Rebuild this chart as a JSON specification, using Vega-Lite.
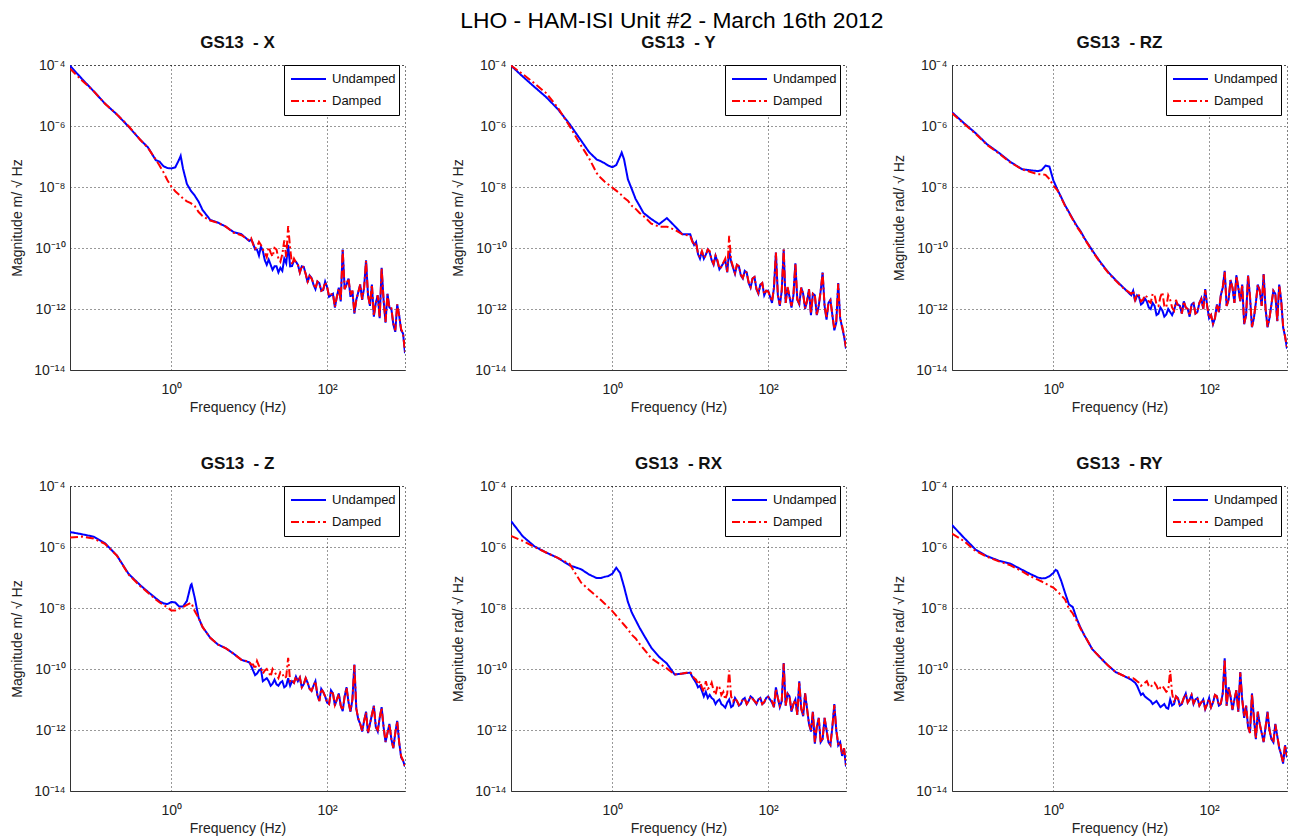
{
"$schema": "https://vega.github.io/schema/vega-lite/v6.json",
"background": "white",
"padding": {"left": 10, "top": 9, "right": 0, "bottom": 0},
"title": {"text": "LHO - HAM-ISI Unit #2 - March 16th 2012", "fontSize": 22.8, "fontWeight": "normal", "color": "#000", "offset": 1, "anchor": "middle", "dx": 23},
"columns": 3,
"spacing": {"row": 39, "column": 45},
"resolve": {"scale": {"color": "independent", "strokeDash": "independent"}, "legend": {"color": "independent", "strokeDash": "independent"}},
"data": {"values": [
{"p":"X","f":0.05,"U":9.55e-5,"D":7.59e-5},
{"p":"X","f":0.0708,"U":3.55e-5,"D":3.16e-5},
{"p":"X","f":0.1,"U":1.41e-5,"D":1.41e-5},
{"p":"X","f":0.141,"U":5.37e-6,"D":5.37e-6},
{"p":"X","f":0.2,"U":2.4e-6,"D":2.4e-6},
{"p":"X","f":0.282,"U":9.55e-7,"D":1e-6},
{"p":"X","f":0.398,"U":3.55e-7,"D":3.55e-7},
{"p":"X","f":0.501,"U":2e-7,"D":1.91e-7},
{"p":"X","f":0.631,"U":7.59e-8,"D":7.94e-8},
{"p":"X","f":0.708,"U":6.76e-8,"D":5.01e-8},
{"p":"X","f":0.794,"U":4.79e-8,"D":3.02e-8},
{"p":"X","f":0.891,"U":4.17e-8,"D":1.66e-8},
{"p":"X","f":1,"U":4.07e-8,"D":1.05e-8},
{"p":"X","f":1.122,"U":4.37e-8,"D":7.24e-9},
{"p":"X","f":1.259,"U":7.94e-8,"D":5.62e-9},
{"p":"X","f":1.318,"U":1.05e-7,"D":5.13e-9},
{"p":"X","f":1.413,"U":3.98e-8,"D":4.17e-9},
{"p":"X","f":1.585,"U":1.26e-8,"D":3.39e-9},
{"p":"X","f":1.778,"U":7.59e-9,"D":2.95e-9},
{"p":"X","f":1.995,"U":5.25e-9,"D":2.4e-9},
{"p":"X","f":2.239,"U":3.31e-9,"D":1.51e-9},
{"p":"X","f":2.512,"U":1.78e-9,"D":1.12e-9},
{"p":"X","f":3.162,"U":8.32e-10,"D":7.94e-10},
{"p":"X","f":3.981,"U":6.76e-10,"D":6.61e-10},
{"p":"X","f":5.012,"U":5.01e-10,"D":5.01e-10},
{"p":"X","f":6.31,"U":3.31e-10,"D":3.16e-10},
{"p":"X","f":7.943,"U":2.82e-10,"D":2.63e-10},
{"p":"X","f":10,"U":1.7e-10,"D":1.78e-10},
{"p":"X","f":11.22,"U":1.41e-10,"D":1.32e-10},
{"p":"X","f":12.59,"U":8.91e-11,"D":1.12e-10},
{"p":"X","f":14.13,"U":1.12e-10,"D":1.26e-10},
{"p":"X","f":15.85,"U":3.98e-11,"D":7.08e-11},
{"p":"X","f":17.78,"U":4.17e-11,"D":1.07e-10},
{"p":"X","f":19.95,"U":1.91e-11,"D":5.25e-11},
{"p":"X","f":22.39,"U":2.51e-11,"D":8.91e-11},
{"p":"X","f":25.12,"U":2.24e-11,"D":3.55e-11},
{"p":"X","f":28.18,"U":4.47e-11,"D":1.78e-10},
{"p":"X","f":31.62,"U":1.26e-10,"D":5.25e-10},
{"p":"X","f":35.48,"U":2.57e-11,"D":2.82e-11},
{"p":"X","f":39.81,"U":3.55e-11,"D":3.31e-11},
{"p":"X","f":44.67,"U":1.58e-11,"D":1.58e-11},
{"p":"X","f":50.12,"U":2.4e-11,"D":2.24e-11},
{"p":"X","f":56.23,"U":7.41e-12,"D":7.94e-12},
{"p":"X","f":63.1,"U":1.05e-11,"D":1e-11},
{"p":"X","f":70.79,"U":4.47e-12,"D":4.68e-12},
{"p":"X","f":79.43,"U":7.08e-12,"D":6.61e-12},
{"p":"X","f":89.13,"U":4.17e-12,"D":4.47e-12},
{"p":"X","f":100,"U":5.25e-12,"D":5.25e-12},
{"p":"X","f":112.2,"U":2.82e-12,"D":3.02e-12},
{"p":"X","f":125.9,"U":1.12e-12,"D":1.17e-12},
{"p":"X","f":141.3,"U":5.01e-12,"D":4.79e-12},
{"p":"X","f":158.5,"U":8.91e-11,"D":8.51e-11},
{"p":"X","f":177.8,"U":6.31e-12,"D":6.61e-12},
{"p":"X","f":199.5,"U":2.51e-12,"D":2.82e-12},
{"p":"X","f":223.9,"U":7.08e-13,"D":7.59e-13},
{"p":"X","f":251.2,"U":3.55e-12,"D":3.55e-12},
{"p":"X","f":281.8,"U":2e-12,"D":2.09e-12},
{"p":"X","f":316.2,"U":3.98e-11,"D":3.8e-11},
{"p":"X","f":354.8,"U":1.26e-12,"D":1.32e-12},
{"p":"X","f":398.1,"U":5.62e-13,"D":6.03e-13},
{"p":"X","f":446.7,"U":2.82e-12,"D":2.82e-12},
{"p":"X","f":501.2,"U":2.24e-11,"D":2.19e-11},
{"p":"X","f":562.3,"U":3.55e-13,"D":3.8e-13},
{"p":"X","f":631,"U":1.12e-12,"D":1.05e-12},
{"p":"X","f":707.9,"U":3.16e-13,"D":3.31e-13},
{"p":"X","f":794.3,"U":1.41e-12,"D":1.41e-12},
{"p":"X","f":891.3,"U":2e-13,"D":2.24e-13},
{"p":"X","f":1000,"U":3.55e-14,"D":3.98e-14},
{"p":"X","f":10.59,"U":1.91e-10,"D":2.09e-10},
{"p":"X","f":11.89,"U":8.91e-11,"D":9.55e-11},
{"p":"X","f":13.34,"U":5.62e-11,"D":1.58e-10},
{"p":"X","f":14.96,"U":7.94e-11,"D":8.91e-11},
{"p":"X","f":16.79,"U":2.82e-11,"D":5.01e-11},
{"p":"X","f":18.84,"U":2.82e-11,"D":7.08e-11},
{"p":"X","f":21.13,"U":2.51e-11,"D":1e-10},
{"p":"X","f":23.71,"U":1.58e-11,"D":4.47e-11},
{"p":"X","f":26.61,"U":1.78e-11,"D":6.31e-11},
{"p":"X","f":29.85,"U":3.16e-11,"D":5.01e-11},
{"p":"X","f":33.5,"U":2.51e-11,"D":1e-10},
{"p":"X","f":37.58,"U":3.98e-11,"D":4.47e-11},
{"p":"X","f":42.17,"U":2.82e-11,"D":2.82e-11},
{"p":"X","f":47.32,"U":2.51e-11,"D":2.63e-11},
{"p":"X","f":53.09,"U":1.41e-11,"D":1.41e-11},
{"p":"X","f":59.57,"U":1.26e-11,"D":1.2e-11},
{"p":"X","f":66.83,"U":6.31e-12,"D":7.08e-12},
{"p":"X","f":74.99,"U":7.94e-12,"D":7.94e-12},
{"p":"X","f":84.14,"U":3.98e-12,"D":3.98e-12},
{"p":"X","f":94.41,"U":7.94e-12,"D":7.59e-12},
{"p":"X","f":105.9,"U":2.51e-12,"D":2.63e-12},
{"p":"X","f":118.9,"U":3.16e-12,"D":3.16e-12},
{"p":"X","f":133.4,"U":2.51e-12,"D":2.51e-12},
{"p":"X","f":149.6,"U":1.78e-12,"D":1.91e-12},
{"p":"X","f":167.9,"U":4.47e-12,"D":4.47e-12},
{"p":"X","f":188.4,"U":1e-11,"D":1e-11},
{"p":"X","f":211.3,"U":3.98e-12,"D":3.98e-12},
{"p":"X","f":237.1,"U":2e-12,"D":2e-12},
{"p":"X","f":266.1,"U":6.31e-12,"D":6.31e-12},
{"p":"X","f":298.5,"U":5.01e-12,"D":5.01e-12},
{"p":"X","f":335,"U":2.82e-12,"D":2.82e-12},
{"p":"X","f":375.8,"U":6.31e-12,"D":6.31e-12},
{"p":"X","f":421.7,"U":1.58e-12,"D":1.58e-12},
{"p":"X","f":473.2,"U":5.01e-13,"D":5.25e-13},
{"p":"X","f":530.9,"U":2e-12,"D":2e-12},
{"p":"X","f":595.7,"U":3.16e-12,"D":3.02e-12},
{"p":"X","f":668.3,"U":1e-12,"D":1.05e-12},
{"p":"X","f":749.9,"U":1.78e-13,"D":2e-13},
{"p":"X","f":841.4,"U":6.31e-13,"D":6.03e-13},
{"p":"X","f":944.1,"U":1.58e-13,"D":1.58e-13},

{"p":"Y","f":0.05,"U":9.55e-5,"D":9.55e-5},
{"p":"Y","f":0.0708,"U":4.17e-5,"D":5.01e-5},
{"p":"Y","f":0.1,"U":1.91e-5,"D":2.51e-5},
{"p":"Y","f":0.141,"U":8.91e-6,"D":1.2e-5},
{"p":"Y","f":0.2,"U":3.55e-6,"D":3.98e-6},
{"p":"Y","f":0.282,"U":1.17e-6,"D":1e-6},
{"p":"Y","f":0.398,"U":3.31e-7,"D":2.24e-7},
{"p":"Y","f":0.501,"U":1.41e-7,"D":8.91e-8},
{"p":"Y","f":0.631,"U":7.94e-8,"D":2.82e-8},
{"p":"Y","f":0.708,"U":7.08e-8,"D":2e-8},
{"p":"Y","f":0.794,"U":6.03e-8,"D":1.51e-8},
{"p":"Y","f":0.891,"U":5.01e-8,"D":1.2e-8},
{"p":"Y","f":1,"U":4.47e-8,"D":9.55e-9},
{"p":"Y","f":1.122,"U":5.25e-8,"D":7.59e-9},
{"p":"Y","f":1.259,"U":1e-7,"D":6.03e-9},
{"p":"Y","f":1.318,"U":1.35e-7,"D":5.37e-9},
{"p":"Y","f":1.413,"U":8.13e-8,"D":4.47e-9},
{"p":"Y","f":1.585,"U":1.78e-8,"D":3.55e-9},
{"p":"Y","f":1.778,"U":8.51e-9,"D":2.4e-9},
{"p":"Y","f":1.995,"U":3.98e-9,"D":1.91e-9},
{"p":"Y","f":2.239,"U":2.4e-9,"D":1.41e-9},
{"p":"Y","f":2.512,"U":1.41e-9,"D":1.12e-9},
{"p":"Y","f":3.162,"U":8.91e-10,"D":6.31e-10},
{"p":"Y","f":3.981,"U":6.03e-10,"D":5.01e-10},
{"p":"Y","f":5.012,"U":9.55e-10,"D":5.01e-10},
{"p":"Y","f":6.31,"U":5.25e-10,"D":3.98e-10},
{"p":"Y","f":7.943,"U":2.82e-10,"D":2.82e-10},
{"p":"Y","f":10,"U":2.82e-10,"D":2.51e-10},
{"p":"Y","f":11.22,"U":1.26e-10,"D":1.2e-10},
{"p":"Y","f":12.59,"U":6.31e-11,"D":6.61e-11},
{"p":"Y","f":14.13,"U":7.94e-11,"D":7.94e-11},
{"p":"Y","f":15.85,"U":6.03e-11,"D":5.62e-11},
{"p":"Y","f":17.78,"U":7.08e-11,"D":7.94e-11},
{"p":"Y","f":19.95,"U":2.82e-11,"D":3.02e-11},
{"p":"Y","f":22.39,"U":3.55e-11,"D":3.98e-11},
{"p":"Y","f":25.12,"U":2.51e-11,"D":2.4e-11},
{"p":"Y","f":28.18,"U":3.98e-11,"D":4.47e-11},
{"p":"Y","f":31.62,"U":7.94e-11,"D":2.51e-10},
{"p":"Y","f":35.48,"U":2.24e-11,"D":2.4e-11},
{"p":"Y","f":39.81,"U":2.82e-11,"D":2.82e-11},
{"p":"Y","f":44.67,"U":1.26e-11,"D":1.32e-11},
{"p":"Y","f":50.12,"U":1.78e-11,"D":1.66e-11},
{"p":"Y","f":56.23,"U":7.08e-12,"D":7.59e-12},
{"p":"Y","f":63.1,"U":1e-11,"D":1e-11},
{"p":"Y","f":70.79,"U":4.47e-12,"D":4.68e-12},
{"p":"Y","f":79.43,"U":6.31e-12,"D":6.03e-12},
{"p":"Y","f":89.13,"U":2.82e-12,"D":3.02e-12},
{"p":"Y","f":100,"U":3.98e-12,"D":3.8e-12},
{"p":"Y","f":112.2,"U":1.58e-12,"D":1.78e-12},
{"p":"Y","f":125.9,"U":7.08e-11,"D":7.08e-11},
{"p":"Y","f":141.3,"U":1.26e-12,"D":1.41e-12},
{"p":"Y","f":158.5,"U":8.91e-11,"D":8.91e-11},
{"p":"Y","f":177.8,"U":5.01e-12,"D":5.25e-12},
{"p":"Y","f":199.5,"U":1.12e-12,"D":1.26e-12},
{"p":"Y","f":223.9,"U":3.16e-11,"D":3.16e-11},
{"p":"Y","f":251.2,"U":1.41e-12,"D":1.51e-12},
{"p":"Y","f":281.8,"U":3.16e-12,"D":3.16e-12},
{"p":"Y","f":316.2,"U":1.78e-12,"D":1.91e-12},
{"p":"Y","f":354.8,"U":6.31e-13,"D":7.08e-13},
{"p":"Y","f":398.1,"U":2.82e-12,"D":2.82e-12},
{"p":"Y","f":446.7,"U":1.26e-12,"D":1.32e-12},
{"p":"Y","f":501.2,"U":1.58e-11,"D":1.51e-11},
{"p":"Y","f":562.3,"U":4.47e-13,"D":5.01e-13},
{"p":"Y","f":631,"U":2e-12,"D":1.91e-12},
{"p":"Y","f":707.9,"U":2e-13,"D":2.24e-13},
{"p":"Y","f":794.3,"U":7.08e-12,"D":6.76e-12},
{"p":"Y","f":891.3,"U":2.51e-13,"D":2.82e-13},
{"p":"Y","f":1000,"U":5.01e-14,"D":5.62e-14},
{"p":"Y","f":10.59,"U":1.78e-10,"D":1.66e-10},
{"p":"Y","f":11.89,"U":1.58e-10,"D":1.51e-10},
{"p":"Y","f":13.34,"U":4.47e-11,"D":5.01e-11},
{"p":"Y","f":14.96,"U":4.47e-11,"D":4.79e-11},
{"p":"Y","f":16.79,"U":8.91e-11,"D":8.91e-11},
{"p":"Y","f":18.84,"U":3.98e-11,"D":4.17e-11},
{"p":"Y","f":21.13,"U":5.62e-11,"D":5.62e-11},
{"p":"Y","f":23.71,"U":2e-11,"D":2.09e-11},
{"p":"Y","f":26.61,"U":3.16e-11,"D":3.31e-11},
{"p":"Y","f":29.85,"U":1.58e-11,"D":1.66e-11},
{"p":"Y","f":33.5,"U":3.55e-11,"D":3.98e-11},
{"p":"Y","f":37.58,"U":1.41e-11,"D":1.51e-11},
{"p":"Y","f":42.17,"U":2.51e-11,"D":2.51e-11},
{"p":"Y","f":47.32,"U":1e-11,"D":1.05e-11},
{"p":"Y","f":53.09,"U":1.58e-11,"D":1.58e-11},
{"p":"Y","f":59.57,"U":5.01e-12,"D":5.25e-12},
{"p":"Y","f":66.83,"U":1.12e-11,"D":1.12e-11},
{"p":"Y","f":74.99,"U":3.16e-12,"D":3.31e-12},
{"p":"Y","f":84.14,"U":7.08e-12,"D":7.08e-12},
{"p":"Y","f":94.41,"U":3.98e-12,"D":3.98e-12},
{"p":"Y","f":105.9,"U":2.51e-12,"D":2.63e-12},
{"p":"Y","f":118.9,"U":5.01e-12,"D":5.01e-12},
{"p":"Y","f":133.4,"U":2.82e-12,"D":2.82e-12},
{"p":"Y","f":149.6,"U":3.98e-12,"D":3.98e-12},
{"p":"Y","f":167.9,"U":1.58e-12,"D":1.58e-12},
{"p":"Y","f":188.4,"U":2.51e-12,"D":2.51e-12},
{"p":"Y","f":211.3,"U":2.82e-12,"D":2.82e-12},
{"p":"Y","f":237.1,"U":2e-12,"D":2e-12},
{"p":"Y","f":266.1,"U":5.01e-12,"D":5.01e-12},
{"p":"Y","f":298.5,"U":1e-12,"D":1.05e-12},
{"p":"Y","f":335,"U":4.47e-12,"D":4.47e-12},
{"p":"Y","f":375.8,"U":3.16e-12,"D":3.16e-12},
{"p":"Y","f":421.7,"U":6.31e-13,"D":6.61e-13},
{"p":"Y","f":473.2,"U":3.98e-12,"D":3.98e-12},
{"p":"Y","f":530.9,"U":1.26e-12,"D":1.26e-12},
{"p":"Y","f":595.7,"U":1.58e-12,"D":1.58e-12},
{"p":"Y","f":668.3,"U":6.31e-13,"D":6.31e-13},
{"p":"Y","f":749.9,"U":3.55e-13,"D":3.98e-13},
{"p":"Y","f":841.4,"U":5.01e-13,"D":5.01e-13},
{"p":"Y","f":944.1,"U":1.26e-13,"D":1.41e-13},

{"p":"RZ","f":0.05,"U":2.82e-6,"D":2.63e-6},
{"p":"RZ","f":0.0708,"U":1.26e-6,"D":1.2e-6},
{"p":"RZ","f":0.1,"U":5.89e-7,"D":5.62e-7},
{"p":"RZ","f":0.141,"U":2.51e-7,"D":2.4e-7},
{"p":"RZ","f":0.2,"U":1.32e-7,"D":1.26e-7},
{"p":"RZ","f":0.282,"U":6.61e-8,"D":6.31e-8},
{"p":"RZ","f":0.398,"U":3.8e-8,"D":3.8e-8},
{"p":"RZ","f":0.501,"U":3.55e-8,"D":3.16e-8},
{"p":"RZ","f":0.631,"U":3.31e-8,"D":2.63e-8},
{"p":"RZ","f":0.708,"U":3.55e-8,"D":2.63e-8},
{"p":"RZ","f":0.794,"U":5.01e-8,"D":2.51e-8},
{"p":"RZ","f":0.891,"U":4.68e-8,"D":1.82e-8},
{"p":"RZ","f":1,"U":1.66e-8,"D":1.1e-8},
{"p":"RZ","f":1.122,"U":8.51e-9,"D":7.94e-9},
{"p":"RZ","f":1.259,"U":4.68e-9,"D":4.47e-9},
{"p":"RZ","f":1.413,"U":2.51e-9,"D":2.4e-9},
{"p":"RZ","f":1.585,"U":1.51e-9,"D":1.45e-9},
{"p":"RZ","f":1.778,"U":8.91e-10,"D":8.51e-10},
{"p":"RZ","f":1.995,"U":5.37e-10,"D":5.01e-10},
{"p":"RZ","f":2.239,"U":3.55e-10,"D":3.31e-10},
{"p":"RZ","f":2.512,"U":2.09e-10,"D":2e-10},
{"p":"RZ","f":3.162,"U":8.32e-11,"D":7.94e-11},
{"p":"RZ","f":3.981,"U":3.55e-11,"D":3.39e-11},
{"p":"RZ","f":5.012,"U":1.66e-11,"D":1.58e-11},
{"p":"RZ","f":6.31,"U":8.91e-12,"D":8.51e-12},
{"p":"RZ","f":7.943,"U":5.01e-12,"D":4.79e-12},
{"p":"RZ","f":10,"U":2.82e-12,"D":3.16e-12},
{"p":"RZ","f":11.22,"U":1.78e-12,"D":2e-12},
{"p":"RZ","f":12.59,"U":2.51e-12,"D":2.82e-12},
{"p":"RZ","f":14.13,"U":1.58e-12,"D":2e-12},
{"p":"RZ","f":15.85,"U":1.78e-12,"D":2.51e-12},
{"p":"RZ","f":17.78,"U":1e-12,"D":1.58e-12},
{"p":"RZ","f":19.95,"U":1.26e-12,"D":2.82e-12},
{"p":"RZ","f":22.39,"U":7.08e-13,"D":1.26e-12},
{"p":"RZ","f":25.12,"U":8.91e-13,"D":3.55e-12},
{"p":"RZ","f":28.18,"U":6.61e-13,"D":1.12e-12},
{"p":"RZ","f":31.62,"U":7.94e-13,"D":2e-12},
{"p":"RZ","f":35.48,"U":8.91e-13,"D":8.91e-13},
{"p":"RZ","f":39.81,"U":1.41e-12,"D":1.26e-12},
{"p":"RZ","f":44.67,"U":7.08e-13,"D":7.08e-13},
{"p":"RZ","f":50.12,"U":1.12e-12,"D":1.12e-12},
{"p":"RZ","f":56.23,"U":5.62e-13,"D":6.03e-13},
{"p":"RZ","f":63.1,"U":1.58e-12,"D":1.51e-12},
{"p":"RZ","f":70.79,"U":7.94e-13,"D":7.94e-13},
{"p":"RZ","f":79.43,"U":2.24e-12,"D":2.09e-12},
{"p":"RZ","f":89.13,"U":4.47e-12,"D":4.17e-12},
{"p":"RZ","f":100,"U":5.01e-13,"D":5.01e-13},
{"p":"RZ","f":112.2,"U":3.16e-13,"D":3.31e-13},
{"p":"RZ","f":125.9,"U":1.41e-12,"D":1.41e-12},
{"p":"RZ","f":141.3,"U":2.82e-12,"D":2.82e-12},
{"p":"RZ","f":158.5,"U":1.78e-11,"D":1.66e-11},
{"p":"RZ","f":177.8,"U":2e-12,"D":2e-12},
{"p":"RZ","f":199.5,"U":5.01e-12,"D":5.01e-12},
{"p":"RZ","f":223.9,"U":1.26e-11,"D":1.2e-11},
{"p":"RZ","f":251.2,"U":1.78e-12,"D":1.78e-12},
{"p":"RZ","f":281.8,"U":3.16e-13,"D":3.31e-13},
{"p":"RZ","f":316.2,"U":1.26e-11,"D":1.2e-11},
{"p":"RZ","f":354.8,"U":2.51e-13,"D":2.63e-13},
{"p":"RZ","f":398.1,"U":1.58e-12,"D":1.58e-12},
{"p":"RZ","f":446.7,"U":3.98e-12,"D":3.98e-12},
{"p":"RZ","f":501.2,"U":1.41e-11,"D":1.35e-11},
{"p":"RZ","f":562.3,"U":2.51e-13,"D":2.63e-13},
{"p":"RZ","f":631,"U":1.41e-12,"D":1.41e-12},
{"p":"RZ","f":707.9,"U":3.16e-12,"D":3.16e-12},
{"p":"RZ","f":794.3,"U":6.31e-12,"D":6.03e-12},
{"p":"RZ","f":891.3,"U":2.51e-13,"D":2.82e-13},
{"p":"RZ","f":1000,"U":5.01e-14,"D":5.62e-14},
{"p":"RZ","f":10.59,"U":3.98e-12,"D":3.98e-12},
{"p":"RZ","f":11.89,"U":2.82e-12,"D":3.16e-12},
{"p":"RZ","f":13.34,"U":1.41e-12,"D":1.78e-12},
{"p":"RZ","f":14.96,"U":2.24e-12,"D":2.82e-12},
{"p":"RZ","f":16.79,"U":1.12e-12,"D":1.78e-12},
{"p":"RZ","f":18.84,"U":1.58e-12,"D":3.16e-12},
{"p":"RZ","f":21.13,"U":6.31e-13,"D":1.41e-12},
{"p":"RZ","f":23.71,"U":1.12e-12,"D":2.51e-12},
{"p":"RZ","f":26.61,"U":5.62e-13,"D":1.26e-12},
{"p":"RZ","f":29.85,"U":1e-12,"D":2.82e-12},
{"p":"RZ","f":33.5,"U":6.31e-13,"D":1.12e-12},
{"p":"RZ","f":37.58,"U":1.58e-12,"D":2e-12},
{"p":"RZ","f":42.17,"U":1.26e-12,"D":1.26e-12},
{"p":"RZ","f":47.32,"U":1.78e-12,"D":1.78e-12},
{"p":"RZ","f":53.09,"U":1e-12,"D":1e-12},
{"p":"RZ","f":59.57,"U":1.41e-12,"D":1.41e-12},
{"p":"RZ","f":66.83,"U":7.08e-13,"D":7.08e-13},
{"p":"RZ","f":74.99,"U":1.58e-12,"D":1.58e-12},
{"p":"RZ","f":84.14,"U":1e-12,"D":1e-12},
{"p":"RZ","f":94.41,"U":1.26e-12,"D":1.26e-12},
{"p":"RZ","f":105.9,"U":6.31e-13,"D":6.31e-13},
{"p":"RZ","f":118.9,"U":5.01e-13,"D":5.01e-13},
{"p":"RZ","f":133.4,"U":7.94e-13,"D":7.94e-13},
{"p":"RZ","f":149.6,"U":5.01e-12,"D":5.01e-12},
{"p":"RZ","f":167.9,"U":1.26e-12,"D":1.26e-12},
{"p":"RZ","f":188.4,"U":8.91e-12,"D":8.91e-12},
{"p":"RZ","f":211.3,"U":1.58e-12,"D":1.58e-12},
{"p":"RZ","f":237.1,"U":5.01e-12,"D":5.01e-12},
{"p":"RZ","f":266.1,"U":6.31e-12,"D":6.31e-12},
{"p":"RZ","f":298.5,"U":6.31e-13,"D":6.31e-13},
{"p":"RZ","f":335,"U":2.51e-12,"D":2.51e-12},
{"p":"RZ","f":375.8,"U":5.01e-13,"D":5.01e-13},
{"p":"RZ","f":421.7,"U":6.31e-12,"D":6.31e-12},
{"p":"RZ","f":473.2,"U":1.26e-12,"D":1.26e-12},
{"p":"RZ","f":530.9,"U":1e-12,"D":1e-12},
{"p":"RZ","f":595.7,"U":5.01e-13,"D":5.01e-13},
{"p":"RZ","f":668.3,"U":3.98e-12,"D":3.98e-12},
{"p":"RZ","f":749.9,"U":3.98e-13,"D":3.98e-13},
{"p":"RZ","f":841.4,"U":2e-12,"D":2e-12},
{"p":"RZ","f":944.1,"U":1.26e-13,"D":1.26e-13},

{"p":"Z","f":0.05,"U":3.09e-6,"D":2.04e-6},
{"p":"Z","f":0.0708,"U":2.63e-6,"D":2.19e-6},
{"p":"Z","f":0.1,"U":2.19e-6,"D":1.91e-6},
{"p":"Z","f":0.141,"U":1.32e-6,"D":1.26e-6},
{"p":"Z","f":0.2,"U":5.25e-7,"D":5.25e-7},
{"p":"Z","f":0.282,"U":1.32e-7,"D":1.26e-7},
{"p":"Z","f":0.398,"U":5.62e-8,"D":5.25e-8},
{"p":"Z","f":0.501,"U":3.39e-8,"D":3.16e-8},
{"p":"Z","f":0.631,"U":2.09e-8,"D":1.91e-8},
{"p":"Z","f":0.708,"U":1.66e-8,"D":1.51e-8},
{"p":"Z","f":0.794,"U":1.41e-8,"D":1.26e-8},
{"p":"Z","f":0.891,"U":1.35e-8,"D":1.05e-8},
{"p":"Z","f":1,"U":1.58e-8,"D":8.32e-9},
{"p":"Z","f":1.122,"U":1.51e-8,"D":8.32e-9},
{"p":"Z","f":1.259,"U":1.12e-8,"D":9.55e-9},
{"p":"Z","f":1.413,"U":1.12e-8,"D":1.07e-8},
{"p":"Z","f":1.585,"U":1.7e-8,"D":1.26e-8},
{"p":"Z","f":1.778,"U":5.62e-8,"D":1.48e-8},
{"p":"Z","f":1.82,"U":6.03e-8,"D":1.41e-8},
{"p":"Z","f":1.995,"U":2.19e-8,"D":7.94e-9},
{"p":"Z","f":2.239,"U":4.79e-9,"D":4.79e-9},
{"p":"Z","f":2.512,"U":2.4e-9,"D":2.4e-9},
{"p":"Z","f":3.162,"U":1.05e-9,"D":1.05e-9},
{"p":"Z","f":3.981,"U":6.31e-10,"D":6.31e-10},
{"p":"Z","f":5.012,"U":4.79e-10,"D":4.79e-10},
{"p":"Z","f":6.31,"U":3.16e-10,"D":3.16e-10},
{"p":"Z","f":7.943,"U":2e-10,"D":2e-10},
{"p":"Z","f":10,"U":1.66e-10,"D":1.74e-10},
{"p":"Z","f":11.22,"U":8.91e-11,"D":1.41e-10},
{"p":"Z","f":12.59,"U":7.08e-11,"D":1.82e-10},
{"p":"Z","f":14.13,"U":1e-10,"D":1.12e-10},
{"p":"Z","f":15.85,"U":4.47e-11,"D":8.91e-11},
{"p":"Z","f":17.78,"U":3.98e-11,"D":7.94e-11},
{"p":"Z","f":19.95,"U":3.31e-11,"D":1e-10},
{"p":"Z","f":22.39,"U":3.16e-11,"D":6.31e-11},
{"p":"Z","f":25.12,"U":3.55e-11,"D":7.94e-11},
{"p":"Z","f":28.18,"U":2.51e-11,"D":5.01e-11},
{"p":"Z","f":31.62,"U":5.01e-11,"D":2.34e-10},
{"p":"Z","f":35.48,"U":3.98e-11,"D":4.47e-11},
{"p":"Z","f":39.81,"U":5.62e-11,"D":5.62e-11},
{"p":"Z","f":44.67,"U":5.25e-11,"D":5.25e-11},
{"p":"Z","f":50.12,"U":3.16e-11,"D":3.16e-11},
{"p":"Z","f":56.23,"U":3.55e-11,"D":3.55e-11},
{"p":"Z","f":63.1,"U":1.91e-11,"D":1.91e-11},
{"p":"Z","f":70.79,"U":3.98e-11,"D":3.98e-11},
{"p":"Z","f":79.43,"U":8.91e-12,"D":8.91e-12},
{"p":"Z","f":89.13,"U":1.78e-11,"D":1.78e-11},
{"p":"Z","f":100,"U":7.94e-12,"D":7.94e-12},
{"p":"Z","f":112.2,"U":2e-11,"D":1.91e-11},
{"p":"Z","f":125.9,"U":6.31e-12,"D":6.61e-12},
{"p":"Z","f":141.3,"U":1.58e-11,"D":1.51e-11},
{"p":"Z","f":158.5,"U":4.17e-12,"D":4.47e-12},
{"p":"Z","f":177.8,"U":2.51e-11,"D":2.4e-11},
{"p":"Z","f":199.5,"U":3.98e-12,"D":4.17e-12},
{"p":"Z","f":223.9,"U":1.41e-10,"D":1.35e-10},
{"p":"Z","f":251.2,"U":2.24e-12,"D":2.4e-12},
{"p":"Z","f":281.8,"U":8.91e-13,"D":9.55e-13},
{"p":"Z","f":316.2,"U":3.98e-12,"D":3.8e-12},
{"p":"Z","f":354.8,"U":1.58e-12,"D":1.58e-12},
{"p":"Z","f":398.1,"U":6.31e-12,"D":6.03e-12},
{"p":"Z","f":446.7,"U":8.91e-13,"D":1e-12},
{"p":"Z","f":501.2,"U":5.62e-12,"D":5.37e-12},
{"p":"Z","f":562.3,"U":3.98e-13,"D":4.17e-13},
{"p":"Z","f":631,"U":1.58e-12,"D":1.51e-12},
{"p":"Z","f":707.9,"U":2.51e-13,"D":2.63e-13},
{"p":"Z","f":794.3,"U":2e-12,"D":1.91e-12},
{"p":"Z","f":891.3,"U":1.26e-13,"D":1.41e-13},
{"p":"Z","f":1000,"U":6.31e-14,"D":6.31e-14},
{"p":"Z","f":10.59,"U":1.26e-10,"D":1.41e-10},
{"p":"Z","f":11.89,"U":6.31e-11,"D":1e-10},
{"p":"Z","f":13.34,"U":8.91e-11,"D":1.26e-10},
{"p":"Z","f":14.96,"U":3.98e-11,"D":7.08e-11},
{"p":"Z","f":16.79,"U":5.01e-11,"D":1e-10},
{"p":"Z","f":18.84,"U":2.82e-11,"D":5.62e-11},
{"p":"Z","f":21.13,"U":4.47e-11,"D":7.94e-11},
{"p":"Z","f":23.71,"U":2.82e-11,"D":5.01e-11},
{"p":"Z","f":26.61,"U":3.98e-11,"D":7.08e-11},
{"p":"Z","f":29.85,"U":2.82e-11,"D":5.62e-11},
{"p":"Z","f":33.5,"U":2.82e-11,"D":3.98e-11},
{"p":"Z","f":37.58,"U":3.55e-11,"D":3.55e-11},
{"p":"Z","f":42.17,"U":3.98e-11,"D":3.98e-11},
{"p":"Z","f":47.32,"U":2.51e-11,"D":2.51e-11},
{"p":"Z","f":53.09,"U":5.01e-11,"D":5.01e-11},
{"p":"Z","f":59.57,"U":2.24e-11,"D":2.24e-11},
{"p":"Z","f":66.83,"U":2.82e-11,"D":2.82e-11},
{"p":"Z","f":74.99,"U":1.41e-11,"D":1.41e-11},
{"p":"Z","f":84.14,"U":2.24e-11,"D":2.24e-11},
{"p":"Z","f":94.41,"U":1.26e-11,"D":1.26e-11},
{"p":"Z","f":105.9,"U":7.08e-12,"D":7.08e-12},
{"p":"Z","f":118.9,"U":1.58e-11,"D":1.58e-11},
{"p":"Z","f":133.4,"U":1e-11,"D":1e-11},
{"p":"Z","f":149.6,"U":6.31e-12,"D":6.31e-12},
{"p":"Z","f":167.9,"U":1.26e-11,"D":1.26e-11},
{"p":"Z","f":188.4,"U":7.94e-12,"D":7.94e-12},
{"p":"Z","f":211.3,"U":1e-11,"D":1e-11},
{"p":"Z","f":237.1,"U":5.01e-12,"D":5.01e-12},
{"p":"Z","f":266.1,"U":1.58e-12,"D":1.58e-12},
{"p":"Z","f":298.5,"U":2e-12,"D":2e-12},
{"p":"Z","f":335,"U":7.94e-13,"D":7.94e-13},
{"p":"Z","f":375.8,"U":3.16e-12,"D":3.16e-12},
{"p":"Z","f":421.7,"U":1.26e-12,"D":1.26e-12},
{"p":"Z","f":473.2,"U":2.51e-12,"D":2.51e-12},
{"p":"Z","f":530.9,"U":1.26e-12,"D":1.26e-12},
{"p":"Z","f":595.7,"U":7.94e-13,"D":7.94e-13},
{"p":"Z","f":668.3,"U":5.01e-13,"D":5.01e-13},
{"p":"Z","f":749.9,"U":7.94e-13,"D":7.94e-13},
{"p":"Z","f":841.4,"U":3.98e-13,"D":3.98e-13},
{"p":"Z","f":944.1,"U":1e-13,"D":1e-13},

{"p":"RX","f":0.05,"U":7.08e-6,"D":2.29e-6},
{"p":"RX","f":0.0708,"U":2.24e-6,"D":1.58e-6},
{"p":"RX","f":0.1,"U":1.05e-6,"D":1e-6},
{"p":"RX","f":0.141,"U":6.61e-7,"D":6.61e-7},
{"p":"RX","f":0.2,"U":4.37e-7,"D":4.37e-7},
{"p":"RX","f":0.282,"U":2.51e-7,"D":2.82e-7},
{"p":"RX","f":0.398,"U":1.86e-7,"D":6.76e-8},
{"p":"RX","f":0.501,"U":1.26e-7,"D":3.98e-8},
{"p":"RX","f":0.631,"U":9.55e-8,"D":2.4e-8},
{"p":"RX","f":0.708,"U":9.55e-8,"D":1.86e-8},
{"p":"RX","f":0.794,"U":1.05e-7,"D":1.41e-8},
{"p":"RX","f":0.891,"U":1.12e-7,"D":1.07e-8},
{"p":"RX","f":1,"U":1.32e-7,"D":7.94e-9},
{"p":"RX","f":1.122,"U":2.09e-7,"D":5.62e-9},
{"p":"RX","f":1.259,"U":1.41e-7,"D":3.98e-9},
{"p":"RX","f":1.413,"U":5.01e-8,"D":2.82e-9},
{"p":"RX","f":1.585,"U":1.58e-8,"D":2e-9},
{"p":"RX","f":1.778,"U":7.08e-9,"D":1.32e-9},
{"p":"RX","f":1.995,"U":3.98e-9,"D":1e-9},
{"p":"RX","f":2.239,"U":2.24e-9,"D":6.61e-10},
{"p":"RX","f":2.512,"U":1.35e-9,"D":4.68e-10},
{"p":"RX","f":3.162,"U":5.01e-10,"D":2.24e-10},
{"p":"RX","f":3.981,"U":2.51e-10,"D":1.51e-10},
{"p":"RX","f":5.012,"U":1.51e-10,"D":1.05e-10},
{"p":"RX","f":6.31,"U":6.61e-11,"D":6.61e-11},
{"p":"RX","f":7.943,"U":7.08e-11,"D":7.08e-11},
{"p":"RX","f":10,"U":7.59e-11,"D":7.94e-11},
{"p":"RX","f":11.22,"U":4.47e-11,"D":5.01e-11},
{"p":"RX","f":12.59,"U":2.51e-11,"D":3.16e-11},
{"p":"RX","f":14.13,"U":1.91e-11,"D":2.51e-11},
{"p":"RX","f":15.85,"U":1.78e-11,"D":3.98e-11},
{"p":"RX","f":17.78,"U":1.41e-11,"D":2.51e-11},
{"p":"RX","f":19.95,"U":1e-11,"D":2e-11},
{"p":"RX","f":22.39,"U":8.91e-12,"D":2.82e-11},
{"p":"RX","f":25.12,"U":7.08e-12,"D":1.41e-11},
{"p":"RX","f":28.18,"U":5.37e-12,"D":1e-11},
{"p":"RX","f":31.62,"U":1e-11,"D":8.91e-11},
{"p":"RX","f":35.48,"U":6.31e-12,"D":8.91e-12},
{"p":"RX","f":39.81,"U":8.91e-12,"D":8.91e-12},
{"p":"RX","f":44.67,"U":7.08e-12,"D":7.94e-12},
{"p":"RX","f":50.12,"U":1.12e-11,"D":1.05e-11},
{"p":"RX","f":56.23,"U":8.91e-12,"D":8.91e-12},
{"p":"RX","f":63.1,"U":1.12e-11,"D":1.05e-11},
{"p":"RX","f":70.79,"U":7.08e-12,"D":7.59e-12},
{"p":"RX","f":79.43,"U":1.12e-11,"D":1.05e-11},
{"p":"RX","f":89.13,"U":7.94e-12,"D":8.32e-12},
{"p":"RX","f":100,"U":1.26e-11,"D":1.2e-11},
{"p":"RX","f":112.2,"U":7.94e-12,"D":8.91e-12},
{"p":"RX","f":125.9,"U":2.51e-11,"D":2.24e-11},
{"p":"RX","f":141.3,"U":5.62e-12,"D":6.31e-12},
{"p":"RX","f":158.5,"U":1.58e-10,"D":1.51e-10},
{"p":"RX","f":177.8,"U":1.58e-11,"D":1.51e-11},
{"p":"RX","f":199.5,"U":3.98e-12,"D":4.17e-12},
{"p":"RX","f":223.9,"U":1e-11,"D":9.55e-12},
{"p":"RX","f":251.2,"U":3.98e-11,"D":3.8e-11},
{"p":"RX","f":281.8,"U":2.82e-12,"D":3.02e-12},
{"p":"RX","f":316.2,"U":5.01e-12,"D":5.01e-12},
{"p":"RX","f":354.8,"U":8.91e-13,"D":1e-12},
{"p":"RX","f":398.1,"U":3.55e-13,"D":3.98e-13},
{"p":"RX","f":446.7,"U":2.51e-12,"D":2.51e-12},
{"p":"RX","f":501.2,"U":5.01e-13,"D":5.25e-13},
{"p":"RX","f":562.3,"U":1e-12,"D":1e-12},
{"p":"RX","f":631,"U":3.16e-13,"D":3.31e-13},
{"p":"RX","f":707.9,"U":7.08e-12,"D":6.61e-12},
{"p":"RX","f":794.3,"U":3.16e-13,"D":3.55e-13},
{"p":"RX","f":891.3,"U":1.41e-13,"D":1.58e-13},
{"p":"RX","f":1000,"U":6.31e-14,"D":7.08e-14},
{"p":"RX","f":10.59,"U":5.62e-11,"D":6.31e-11},
{"p":"RX","f":11.89,"U":3.55e-11,"D":4.47e-11},
{"p":"RX","f":13.34,"U":2.82e-11,"D":3.98e-11},
{"p":"RX","f":14.96,"U":1.26e-11,"D":1.78e-11},
{"p":"RX","f":16.79,"U":1.12e-11,"D":2.24e-11},
{"p":"RX","f":18.84,"U":1.12e-11,"D":3.55e-11},
{"p":"RX","f":21.13,"U":7.08e-12,"D":1.41e-11},
{"p":"RX","f":23.71,"U":1e-11,"D":2.51e-11},
{"p":"RX","f":26.61,"U":6.31e-12,"D":1.78e-11},
{"p":"RX","f":29.85,"U":7.94e-12,"D":1.58e-11},
{"p":"RX","f":33.5,"U":5.62e-12,"D":1.26e-11},
{"p":"RX","f":37.58,"U":1.12e-11,"D":1.12e-11},
{"p":"RX","f":42.17,"U":6.31e-12,"D":6.61e-12},
{"p":"RX","f":47.32,"U":1e-11,"D":1e-11},
{"p":"RX","f":53.09,"U":7.08e-12,"D":7.08e-12},
{"p":"RX","f":59.57,"U":1.26e-11,"D":1.26e-11},
{"p":"RX","f":66.83,"U":8.91e-12,"D":8.91e-12},
{"p":"RX","f":74.99,"U":1e-11,"D":1e-11},
{"p":"RX","f":84.14,"U":7.08e-12,"D":7.08e-12},
{"p":"RX","f":94.41,"U":1.12e-11,"D":1.12e-11},
{"p":"RX","f":105.9,"U":1e-11,"D":1e-11},
{"p":"RX","f":118.9,"U":5.62e-12,"D":5.62e-12},
{"p":"RX","f":133.4,"U":1.12e-11,"D":1.12e-11},
{"p":"RX","f":149.6,"U":8.91e-12,"D":8.91e-12},
{"p":"RX","f":167.9,"U":6.31e-12,"D":6.31e-12},
{"p":"RX","f":188.4,"U":1.26e-11,"D":1.26e-11},
{"p":"RX","f":211.3,"U":7.08e-12,"D":7.08e-12},
{"p":"RX","f":237.1,"U":3.16e-12,"D":3.16e-12},
{"p":"RX","f":266.1,"U":5.01e-12,"D":5.01e-12},
{"p":"RX","f":298.5,"U":1.58e-11,"D":1.58e-11},
{"p":"RX","f":335,"U":1.58e-12,"D":1.58e-12},
{"p":"RX","f":375.8,"U":3.98e-12,"D":3.98e-12},
{"p":"RX","f":421.7,"U":1.26e-12,"D":1.26e-12},
{"p":"RX","f":473.2,"U":3.98e-13,"D":3.98e-13},
{"p":"RX","f":530.9,"U":2.51e-12,"D":2.51e-12},
{"p":"RX","f":595.7,"U":3.98e-13,"D":3.98e-13},
{"p":"RX","f":668.3,"U":1.26e-12,"D":1.26e-12},
{"p":"RX","f":749.9,"U":1e-12,"D":1e-12},
{"p":"RX","f":841.4,"U":3.98e-13,"D":3.98e-13},
{"p":"RX","f":944.1,"U":2.51e-13,"D":2.51e-13},

{"p":"RY","f":0.05,"U":5.25e-6,"D":2.75e-6},
{"p":"RY","f":0.0708,"U":2.04e-6,"D":1.58e-6},
{"p":"RY","f":0.1,"U":8.32e-7,"D":7.41e-7},
{"p":"RY","f":0.141,"U":5.01e-7,"D":4.79e-7},
{"p":"RY","f":0.2,"U":3.55e-7,"D":3.39e-7},
{"p":"RY","f":0.282,"U":2.82e-7,"D":2.51e-7},
{"p":"RY","f":0.398,"U":1.78e-7,"D":1.58e-7},
{"p":"RY","f":0.501,"U":1.32e-7,"D":1.12e-7},
{"p":"RY","f":0.631,"U":1e-7,"D":8.51e-8},
{"p":"RY","f":0.708,"U":9.33e-8,"D":7.41e-8},
{"p":"RY","f":0.794,"U":9.55e-8,"D":6.31e-8},
{"p":"RY","f":0.891,"U":1.1e-7,"D":5.37e-8},
{"p":"RY","f":1,"U":1.41e-7,"D":4.68e-8},
{"p":"RY","f":1.072,"U":1.78e-7,"D":3.98e-8},
{"p":"RY","f":1.122,"U":1.66e-7,"D":3.55e-8},
{"p":"RY","f":1.259,"U":7.94e-8,"D":2.63e-8},
{"p":"RY","f":1.413,"U":3.16e-8,"D":1.91e-8},
{"p":"RY","f":1.585,"U":1.32e-8,"D":9.55e-9},
{"p":"RY","f":1.778,"U":1.07e-8,"D":6.61e-9},
{"p":"RY","f":1.995,"U":4.47e-9,"D":3.8e-9},
{"p":"RY","f":2.239,"U":2.24e-9,"D":2.09e-9},
{"p":"RY","f":2.512,"U":1.26e-9,"D":1.26e-9},
{"p":"RY","f":3.162,"U":4.47e-10,"D":4.47e-10},
{"p":"RY","f":3.981,"U":2.4e-10,"D":2.4e-10},
{"p":"RY","f":5.012,"U":1.32e-10,"D":1.32e-10},
{"p":"RY","f":6.31,"U":7.94e-11,"D":7.94e-11},
{"p":"RY","f":7.943,"U":6.03e-11,"D":6.03e-11},
{"p":"RY","f":10,"U":4.47e-11,"D":5.01e-11},
{"p":"RY","f":11.22,"U":3.55e-11,"D":4.47e-11},
{"p":"RY","f":12.59,"U":2e-11,"D":3.55e-11},
{"p":"RY","f":14.13,"U":1.58e-11,"D":3.16e-11},
{"p":"RY","f":15.85,"U":1.12e-11,"D":3.98e-11},
{"p":"RY","f":17.78,"U":8.91e-12,"D":2.51e-11},
{"p":"RY","f":19.95,"U":7.94e-12,"D":3.55e-11},
{"p":"RY","f":22.39,"U":7.08e-12,"D":2e-11},
{"p":"RY","f":25.12,"U":6.31e-12,"D":2.82e-11},
{"p":"RY","f":28.18,"U":5.37e-12,"D":1.78e-11},
{"p":"RY","f":31.62,"U":1e-11,"D":8.91e-11},
{"p":"RY","f":35.48,"U":7.08e-12,"D":7.94e-12},
{"p":"RY","f":39.81,"U":1.12e-11,"D":1.05e-11},
{"p":"RY","f":44.67,"U":7.08e-12,"D":7.59e-12},
{"p":"RY","f":50.12,"U":1.58e-11,"D":1.51e-11},
{"p":"RY","f":56.23,"U":1e-11,"D":1e-11},
{"p":"RY","f":63.1,"U":7.08e-12,"D":7.59e-12},
{"p":"RY","f":70.79,"U":1.12e-11,"D":1.12e-11},
{"p":"RY","f":79.43,"U":7.94e-12,"D":8.32e-12},
{"p":"RY","f":89.13,"U":4.79e-12,"D":5.01e-12},
{"p":"RY","f":100,"U":1.12e-11,"D":1.05e-11},
{"p":"RY","f":112.2,"U":7.94e-12,"D":8.32e-12},
{"p":"RY","f":125.9,"U":1.26e-11,"D":1.26e-11},
{"p":"RY","f":141.3,"U":7.08e-12,"D":7.59e-12},
{"p":"RY","f":158.5,"U":2.24e-10,"D":2.09e-10},
{"p":"RY","f":177.8,"U":2.51e-11,"D":2.4e-11},
{"p":"RY","f":199.5,"U":4.47e-12,"D":4.79e-12},
{"p":"RY","f":223.9,"U":2e-11,"D":2e-11},
{"p":"RY","f":251.2,"U":7.94e-11,"D":7.59e-11},
{"p":"RY","f":281.8,"U":2.51e-12,"D":2.82e-12},
{"p":"RY","f":316.2,"U":1.26e-12,"D":1.32e-12},
{"p":"RY","f":354.8,"U":1.58e-11,"D":1.51e-11},
{"p":"RY","f":398.1,"U":5.01e-13,"D":5.25e-13},
{"p":"RY","f":446.7,"U":1.58e-12,"D":1.58e-12},
{"p":"RY","f":501.2,"U":3.98e-13,"D":4.17e-13},
{"p":"RY","f":562.3,"U":3.98e-12,"D":3.8e-12},
{"p":"RY","f":631,"U":5.01e-13,"D":5.25e-13},
{"p":"RY","f":707.9,"U":1.58e-12,"D":1.51e-12},
{"p":"RY","f":794.3,"U":2.51e-13,"D":2.82e-13},
{"p":"RY","f":891.3,"U":7.94e-14,"D":8.91e-14},
{"p":"RY","f":1000,"U":1.26e-13,"D":1.41e-13},
{"p":"RY","f":10.59,"U":3.98e-11,"D":5.01e-11},
{"p":"RY","f":11.89,"U":2.82e-11,"D":3.98e-11},
{"p":"RY","f":13.34,"U":1.41e-11,"D":2.82e-11},
{"p":"RY","f":14.96,"U":1.26e-11,"D":3.55e-11},
{"p":"RY","f":16.79,"U":1e-11,"D":2.82e-11},
{"p":"RY","f":18.84,"U":7.08e-12,"D":3.16e-11},
{"p":"RY","f":21.13,"U":8.91e-12,"D":2.82e-11},
{"p":"RY","f":23.71,"U":5.62e-12,"D":2.51e-11},
{"p":"RY","f":26.61,"U":7.08e-12,"D":2.24e-11},
{"p":"RY","f":29.85,"U":5.01e-12,"D":2e-11},
{"p":"RY","f":33.5,"U":6.31e-12,"D":1.58e-11},
{"p":"RY","f":37.58,"U":1.26e-11,"D":1.26e-11},
{"p":"RY","f":42.17,"U":6.31e-12,"D":6.31e-12},
{"p":"RY","f":47.32,"U":1.12e-11,"D":1.12e-11},
{"p":"RY","f":53.09,"U":7.94e-12,"D":7.94e-12},
{"p":"RY","f":59.57,"U":1.41e-11,"D":1.41e-11},
{"p":"RY","f":66.83,"U":1e-11,"D":1e-11},
{"p":"RY","f":74.99,"U":6.31e-12,"D":6.31e-12},
{"p":"RY","f":84.14,"U":1e-11,"D":1e-11},
{"p":"RY","f":94.41,"U":7.08e-12,"D":7.08e-12},
{"p":"RY","f":105.9,"U":5.62e-12,"D":5.62e-12},
{"p":"RY","f":118.9,"U":1.41e-11,"D":1.41e-11},
{"p":"RY","f":133.4,"U":6.31e-12,"D":6.31e-12},
{"p":"RY","f":149.6,"U":1.58e-11,"D":1.58e-11},
{"p":"RY","f":167.9,"U":6.31e-12,"D":6.31e-12},
{"p":"RY","f":188.4,"U":1.26e-11,"D":1.26e-11},
{"p":"RY","f":211.3,"U":1e-11,"D":1e-11},
{"p":"RY","f":237.1,"U":3.98e-12,"D":3.98e-12},
{"p":"RY","f":266.1,"U":1e-11,"D":1e-11},
{"p":"RY","f":298.5,"U":6.31e-12,"D":6.31e-12},
{"p":"RY","f":335,"U":7.94e-13,"D":7.94e-13},
{"p":"RY","f":375.8,"U":2.51e-12,"D":2.51e-12},
{"p":"RY","f":421.7,"U":3.98e-12,"D":3.98e-12},
{"p":"RY","f":473.2,"U":7.94e-13,"D":7.94e-13},
{"p":"RY","f":530.9,"U":1.26e-12,"D":1.26e-12},
{"p":"RY","f":595.7,"U":1e-12,"D":1e-12},
{"p":"RY","f":668.3,"U":3.98e-13,"D":3.98e-13},
{"p":"RY","f":749.9,"U":6.31e-13,"D":6.31e-13},
{"p":"RY","f":841.4,"U":1.58e-13,"D":1.58e-13},
{"p":"RY","f":944.1,"U":3.16e-13,"D":3.16e-13}
]},
"concat": [
{"title": "GS13\u00a0 - X", "width": 335, "height": 305,
 "transform": [{"filter": "datum.p == 'X'"}, {"fold": ["U", "D"], "as": ["s", "m"]}],
 "mark": {"type": "line", "strokeWidth": 2, "clip": true},
 "encoding": {
  "x": {"field": "f", "type": "quantitative", "scale": {"type": "log", "domain": [0.05, 1000], "nice": false}, "axis": {"title": "Frequency (Hz)", "values": [1, 100], "labelExpr": "datum.value < 10 ? '10⁰' : '10²'"}},
  "y": {"field": "m", "type": "quantitative", "scale": {"type": "log", "domain": [1e-14, 1e-4], "nice": false}, "axis": {"title": "Magnitude m/ √ Hz", "values": [1e-4, 1e-6, 1e-8, 1e-10, 1e-12, 1e-14], "labelExpr": "datum.value > 1e-5 ? '10⁻⁴' : datum.value > 1e-7 ? '10⁻⁶' : datum.value > 1e-9 ? '10⁻⁸' : datum.value > 1e-11 ? '10⁻¹⁰' : datum.value > 1e-13 ? '10⁻¹²' : '10⁻¹⁴'"}},
  "color": {"field": "s", "type": "nominal", "scale": {"domain": ["U", "D"], "range": ["#0000ff", "#ff0000"]}, "legend": {"title": null, "labelExpr": "datum.label == 'U' ? 'Undamped' : 'Damped'"}},
  "strokeDash": {"field": "s", "type": "nominal", "scale": {"domain": ["U", "D"], "range": [[1, 0], [8, 3, 2, 3]]}, "legend": {"title": null, "labelExpr": "datum.label == 'U' ? 'Undamped' : 'Damped'"}}
 }},
{"title": "GS13\u00a0 - Y", "width": 335, "height": 305,
 "transform": [{"filter": "datum.p == 'Y'"}, {"fold": ["U", "D"], "as": ["s", "m"]}],
 "mark": {"type": "line", "strokeWidth": 2, "clip": true},
 "encoding": {
  "x": {"field": "f", "type": "quantitative", "scale": {"type": "log", "domain": [0.05, 1000], "nice": false}, "axis": {"title": "Frequency (Hz)", "values": [1, 100], "labelExpr": "datum.value < 10 ? '10⁰' : '10²'"}},
  "y": {"field": "m", "type": "quantitative", "scale": {"type": "log", "domain": [1e-14, 1e-4], "nice": false}, "axis": {"title": "Magnitude m/ √ Hz", "values": [1e-4, 1e-6, 1e-8, 1e-10, 1e-12, 1e-14], "labelExpr": "datum.value > 1e-5 ? '10⁻⁴' : datum.value > 1e-7 ? '10⁻⁶' : datum.value > 1e-9 ? '10⁻⁸' : datum.value > 1e-11 ? '10⁻¹⁰' : datum.value > 1e-13 ? '10⁻¹²' : '10⁻¹⁴'"}},
  "color": {"field": "s", "type": "nominal", "scale": {"domain": ["U", "D"], "range": ["#0000ff", "#ff0000"]}, "legend": {"title": null, "labelExpr": "datum.label == 'U' ? 'Undamped' : 'Damped'"}},
  "strokeDash": {"field": "s", "type": "nominal", "scale": {"domain": ["U", "D"], "range": [[1, 0], [8, 3, 2, 3]]}, "legend": {"title": null, "labelExpr": "datum.label == 'U' ? 'Undamped' : 'Damped'"}}
 }},
{"title": "GS13\u00a0 - RZ", "width": 335, "height": 305,
 "transform": [{"filter": "datum.p == 'RZ'"}, {"fold": ["U", "D"], "as": ["s", "m"]}],
 "mark": {"type": "line", "strokeWidth": 2, "clip": true},
 "encoding": {
  "x": {"field": "f", "type": "quantitative", "scale": {"type": "log", "domain": [0.05, 1000], "nice": false}, "axis": {"title": "Frequency (Hz)", "values": [1, 100], "labelExpr": "datum.value < 10 ? '10⁰' : '10²'"}},
  "y": {"field": "m", "type": "quantitative", "scale": {"type": "log", "domain": [1e-14, 1e-4], "nice": false}, "axis": {"title": "Magnitude rad/ √ Hz", "values": [1e-4, 1e-6, 1e-8, 1e-10, 1e-12, 1e-14], "labelExpr": "datum.value > 1e-5 ? '10⁻⁴' : datum.value > 1e-7 ? '10⁻⁶' : datum.value > 1e-9 ? '10⁻⁸' : datum.value > 1e-11 ? '10⁻¹⁰' : datum.value > 1e-13 ? '10⁻¹²' : '10⁻¹⁴'"}},
  "color": {"field": "s", "type": "nominal", "scale": {"domain": ["U", "D"], "range": ["#0000ff", "#ff0000"]}, "legend": {"title": null, "labelExpr": "datum.label == 'U' ? 'Undamped' : 'Damped'"}},
  "strokeDash": {"field": "s", "type": "nominal", "scale": {"domain": ["U", "D"], "range": [[1, 0], [8, 3, 2, 3]]}, "legend": {"title": null, "labelExpr": "datum.label == 'U' ? 'Undamped' : 'Damped'"}}
 }},
{"title": "GS13\u00a0 - Z", "width": 335, "height": 305,
 "transform": [{"filter": "datum.p == 'Z'"}, {"fold": ["U", "D"], "as": ["s", "m"]}],
 "mark": {"type": "line", "strokeWidth": 2, "clip": true},
 "encoding": {
  "x": {"field": "f", "type": "quantitative", "scale": {"type": "log", "domain": [0.05, 1000], "nice": false}, "axis": {"title": "Frequency (Hz)", "values": [1, 100], "labelExpr": "datum.value < 10 ? '10⁰' : '10²'"}},
  "y": {"field": "m", "type": "quantitative", "scale": {"type": "log", "domain": [1e-14, 1e-4], "nice": false}, "axis": {"title": "Magnitude m/ √ Hz", "values": [1e-4, 1e-6, 1e-8, 1e-10, 1e-12, 1e-14], "labelExpr": "datum.value > 1e-5 ? '10⁻⁴' : datum.value > 1e-7 ? '10⁻⁶' : datum.value > 1e-9 ? '10⁻⁸' : datum.value > 1e-11 ? '10⁻¹⁰' : datum.value > 1e-13 ? '10⁻¹²' : '10⁻¹⁴'"}},
  "color": {"field": "s", "type": "nominal", "scale": {"domain": ["U", "D"], "range": ["#0000ff", "#ff0000"]}, "legend": {"title": null, "labelExpr": "datum.label == 'U' ? 'Undamped' : 'Damped'"}},
  "strokeDash": {"field": "s", "type": "nominal", "scale": {"domain": ["U", "D"], "range": [[1, 0], [8, 3, 2, 3]]}, "legend": {"title": null, "labelExpr": "datum.label == 'U' ? 'Undamped' : 'Damped'"}}
 }},
{"title": "GS13\u00a0 - RX", "width": 335, "height": 305,
 "transform": [{"filter": "datum.p == 'RX'"}, {"fold": ["U", "D"], "as": ["s", "m"]}],
 "mark": {"type": "line", "strokeWidth": 2, "clip": true},
 "encoding": {
  "x": {"field": "f", "type": "quantitative", "scale": {"type": "log", "domain": [0.05, 1000], "nice": false}, "axis": {"title": "Frequency (Hz)", "values": [1, 100], "labelExpr": "datum.value < 10 ? '10⁰' : '10²'"}},
  "y": {"field": "m", "type": "quantitative", "scale": {"type": "log", "domain": [1e-14, 1e-4], "nice": false}, "axis": {"title": "Magnitude rad/ √ Hz", "values": [1e-4, 1e-6, 1e-8, 1e-10, 1e-12, 1e-14], "labelExpr": "datum.value > 1e-5 ? '10⁻⁴' : datum.value > 1e-7 ? '10⁻⁶' : datum.value > 1e-9 ? '10⁻⁸' : datum.value > 1e-11 ? '10⁻¹⁰' : datum.value > 1e-13 ? '10⁻¹²' : '10⁻¹⁴'"}},
  "color": {"field": "s", "type": "nominal", "scale": {"domain": ["U", "D"], "range": ["#0000ff", "#ff0000"]}, "legend": {"title": null, "labelExpr": "datum.label == 'U' ? 'Undamped' : 'Damped'"}},
  "strokeDash": {"field": "s", "type": "nominal", "scale": {"domain": ["U", "D"], "range": [[1, 0], [8, 3, 2, 3]]}, "legend": {"title": null, "labelExpr": "datum.label == 'U' ? 'Undamped' : 'Damped'"}}
 }},
{"title": "GS13\u00a0 - RY", "width": 335, "height": 305,
 "transform": [{"filter": "datum.p == 'RY'"}, {"fold": ["U", "D"], "as": ["s", "m"]}],
 "mark": {"type": "line", "strokeWidth": 2, "clip": true},
 "encoding": {
  "x": {"field": "f", "type": "quantitative", "scale": {"type": "log", "domain": [0.05, 1000], "nice": false}, "axis": {"title": "Frequency (Hz)", "values": [1, 100], "labelExpr": "datum.value < 10 ? '10⁰' : '10²'"}},
  "y": {"field": "m", "type": "quantitative", "scale": {"type": "log", "domain": [1e-14, 1e-4], "nice": false}, "axis": {"title": "Magnitude rad/ √ Hz", "values": [1e-4, 1e-6, 1e-8, 1e-10, 1e-12, 1e-14], "labelExpr": "datum.value > 1e-5 ? '10⁻⁴' : datum.value > 1e-7 ? '10⁻⁶' : datum.value > 1e-9 ? '10⁻⁸' : datum.value > 1e-11 ? '10⁻¹⁰' : datum.value > 1e-13 ? '10⁻¹²' : '10⁻¹⁴'"}},
  "color": {"field": "s", "type": "nominal", "scale": {"domain": ["U", "D"], "range": ["#0000ff", "#ff0000"]}, "legend": {"title": null, "labelExpr": "datum.label == 'U' ? 'Undamped' : 'Damped'"}},
  "strokeDash": {"field": "s", "type": "nominal", "scale": {"domain": ["U", "D"], "range": [[1, 0], [8, 3, 2, 3]]}, "legend": {"title": null, "labelExpr": "datum.label == 'U' ? 'Undamped' : 'Damped'"}}
 }}
],
"config": {
 "font": "Liberation Sans",
 "view": {"stroke": "#000", "strokeDash": [1, 3], "strokeWidth": 1},
 "axis": {"domainColor": "#333", "domainWidth": 1, "gridColor": "#000", "gridDash": [1, 3], "gridOpacity": 0.8, "ticks": false, "labelFont": "Liberation Sans", "labelFontSize": 14, "labelColor": "#222", "titleFont": "Liberation Sans", "titleFontSize": 14, "titleFontWeight": "normal", "titleColor": "#222"},
 "axisY": {"labelPadding": 5, "titlePadding": 9},
 "axisX": {"labelPadding": 12, "titlePadding": 4},
 "title": {"font": "Liberation Sans", "fontSize": 17, "fontWeight": "bold", "color": "#111", "offset": 6},
 "legend": {"orient": "none", "legendX": 214, "legendY": 0, "symbolType": "stroke", "symbolSize": 1225, "clipHeight": 22, "symbolStrokeWidth": 2, "symbolOffset": 3, "labelFont": "Liberation Sans", "labelFontSize": 13, "labelColor": "#111", "labelOffset": 5, "padding": 3, "rowPadding": 0, "strokeColor": "#000", "fillColor": "#fff"}
}
}
